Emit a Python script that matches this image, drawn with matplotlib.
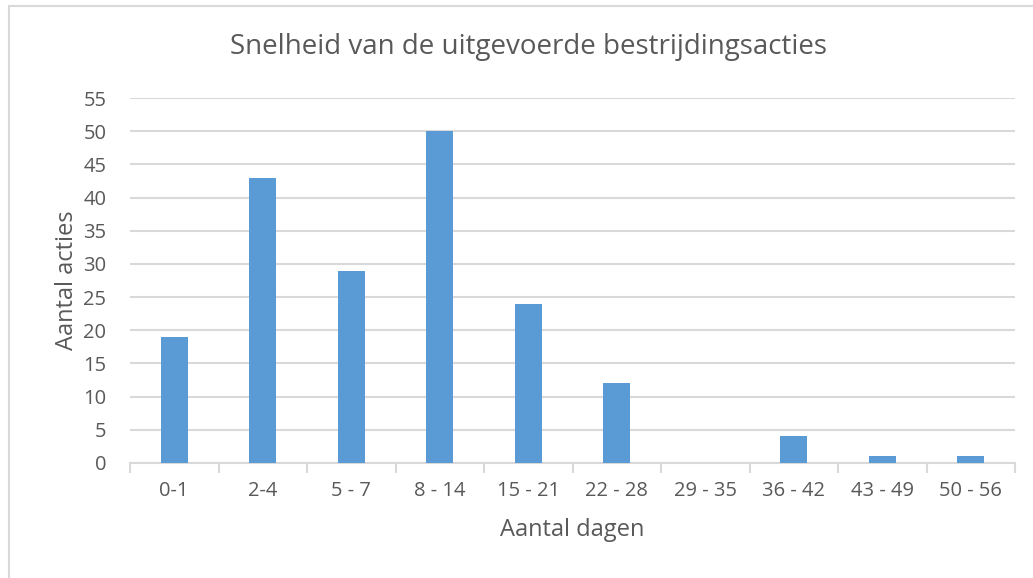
import matplotlib.pyplot as plt
from matplotlib.patches import Rectangle

categories = ["0-1", "2-4", "5 - 7", "8 - 14", "15 - 21", "22 - 28",
              "29 - 35", "36 - 42", "43 - 49", "50 - 56"]
acties = [19, 43, 29, 50, 24, 12, 0, 4, 1, 1]

plt.rcParams['font.family'] = ['Open Sans', 'DejaVu Sans']
txt = '#595959'
grid = '#d9d9d9'

fig = plt.figure(figsize=(10.33, 5.78), dpi=100)
ax = fig.add_axes([130 / 1033, 1 - 463 / 578, 885 / 1033, 365 / 578])

# rand om de grafiek
fig.patches.append(Rectangle((9 / 1033, -0.05), 1.2, 1 - 6 / 578 + 0.05,
                             transform=fig.transFigure, fill=False,
                             edgecolor=grid, linewidth=1.5))

x = range(len(categories))
ax.bar(x, acties, width=0.3, color='#5b9bd5', zorder=3)

ax.set_xlim(-0.5, len(categories) - 0.5)
ax.set_ylim(0, 55)
ax.set_yticks(range(0, 56, 5))
ax.grid(axis='y', color=grid, linewidth=1.5, zorder=0)
ax.set_xticks(list(x))
ax.set_xticklabels(categories)
ax.set_xticks([i - 0.5 for i in range(len(categories) + 1)], minor=True)
ax.tick_params(axis='x', which='major', length=0, pad=13, labelsize=14.5, colors=txt)
ax.tick_params(axis='x', which='minor', length=7, width=1.5, color=grid)
ax.tick_params(axis='y', length=0, pad=17, labelsize=14.5, labelcolor=txt)
for s in ['top', 'right', 'left']:
    ax.spines[s].set_visible(False)
ax.spines['bottom'].set_color(grid)
ax.spines['bottom'].set_linewidth(1.5)

ax.set_xlabel('Aantal dagen', fontsize=17, color=txt, labelpad=12)
ax.set_ylabel('Aantal acties', fontsize=17, color=txt, labelpad=3)
fig.text(528 / 1033, 1 - 47 / 578, 'Snelheid van de uitgevoerde bestrijdingsacties',
         fontsize=20, color=txt, ha='center', va='center')

plt.savefig('out.png', dpi=100)
